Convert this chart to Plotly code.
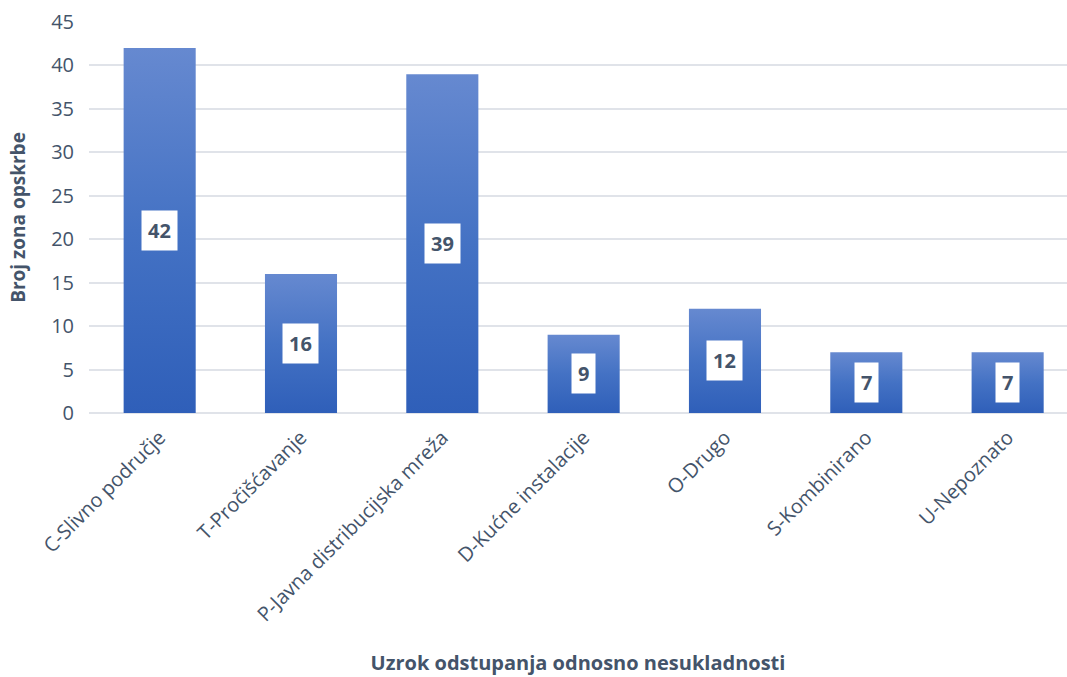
import plotly.graph_objects as go

categories = [
    "C-Slivno područje",
    "T-Pročišćavanje",
    "P-Javna distribucijska mreža",
    "D-Kućne instalacije",
    "O-Drugo",
    "S-Kombinirano",
    "U-Nepoznato",
]
counts = [42, 16, 39, 9, 12, 7, 7]
y_ticks = [0, 5, 10, 15, 20, 25, 30, 35, 40, 45]

TEXT = "#44546a"
FONT = "Open Sans"
BAR_HALF = 0.255

fig = go.Figure()

# Each bar is a filled polygon so it can carry a vertical gradient.
for i, (cat, v) in enumerate(zip(categories, counts)):
    fig.add_trace(go.Scatter(
        x=[i - BAR_HALF, i + BAR_HALF, i + BAR_HALF, i - BAR_HALF, i - BAR_HALF],
        y=[0, 0, v, v, 0],
        mode="lines",
        line=dict(width=0),
        fill="toself",
        fillgradient=dict(
            type="vertical",
            start=0,
            stop=v,
            colorscale=[[0, "#2f5fb9"], [0.5, "#4472c4"], [1, "#6689d0"]],
        ),
        name=cat,
        hoverinfo="text",
        text=f"{cat}: {v}",
        showlegend=False,
    ))
    fig.add_annotation(
        x=i, y=v / 2, text=f"<b>{v}</b>", showarrow=False,
        font=dict(family=FONT, size=20, color=TEXT),
        bgcolor="white", borderpad=6,
    )

fig.update_layout(
    width=1067, height=677,
    margin=dict(l=89, r=0, t=22, b=264),
    plot_bgcolor="white", paper_bgcolor="white",
    font=dict(family=FONT, color=TEXT),
    xaxis=dict(
        range=[-0.5, 6.42],
        tickmode="array",
        tickvals=list(range(len(categories))),
        ticktext=categories,
        tickangle=-45,
        tickfont=dict(size=20, color=TEXT),
        showgrid=False, zeroline=False, showline=False,
        ticks="", ticklabelstandoff=8,
        title=dict(text="<b>Uzrok odstupanja odnosno nesukladnosti</b>",
                   font=dict(size=20, color=TEXT), standoff=30),
        fixedrange=True,
    ),
    yaxis=dict(
        range=[0, 45],
        tickmode="array",
        tickvals=y_ticks,
        tickfont=dict(size=20, color=TEXT),
        showgrid=True, gridcolor="#e0e3e9", gridwidth=1.5,
        zeroline=True, zerolinecolor="#e0e3e9", zerolinewidth=1.5,
        showline=False, ticks="", ticklabelstandoff=14,
        title=dict(text="<b>Broj zona opskrbe</b>",
                   font=dict(size=19, color=TEXT), standoff=20),
        fixedrange=True,
    ),
)

fig.write_html("out.html")
